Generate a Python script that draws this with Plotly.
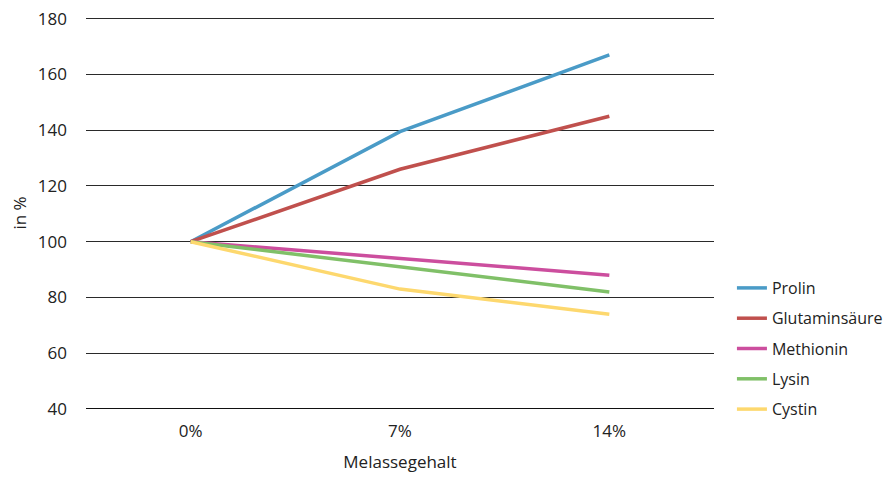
import plotly.graph_objects as go

categories = ["0%", "7%", "14%"]
series_names = ["Prolin", "Glutaminsäure", "Methionin", "Lysin", "Cystin"]
prolin = [100, 139.5, 167]
glutaminsaeure = [100, 126, 145]
methionin = [100, 94, 88]
lysin = [100, 91, 82]
cystin = [100, 83, 74]
y_ticks = [40, 60, 80, 100, 120, 140, 160, 180]

colors = ["#4A9BC7", "#C0504D", "#CC4E9E", "#80C068", "#FDD86E"]
values = [prolin, glutaminsaeure, methionin, lysin, cystin]

fig = go.Figure()
for name, vals, c in zip(series_names, values, colors):
    fig.add_trace(go.Scatter(x=categories, y=vals, mode="lines", name=name,
                             legendgroup=name,
                             line=dict(color=c, width=3.5)))

font_family = "Open Sans, sans-serif"
fig.update_layout(
    width=885, height=475,
    margin=dict(l=78, r=179, t=9, b=74),
    plot_bgcolor="white", paper_bgcolor="white",
    font=dict(family=font_family, size=17, color="#222"),
    showlegend=True,
    legend=dict(xref="container", yref="container", x=0.818, y=0.12,
                xanchor="left", yanchor="bottom",
                font=dict(size=16, color="#222"), tracegroupgap=6.5,
                itemwidth=30),
    xaxis=dict(type="category", range=[-0.5, 2.5], showgrid=False,
               showline=False, zeroline=False, ticks="", automargin=False,
               ticklabelstandoff=10,
               title=dict(text="Melassegehalt", font=dict(size=17), standoff=15)),
    yaxis=dict(range=[40, 180.6], tickvals=y_ticks, showgrid=True,
               gridcolor="#2a2a2a", gridwidth=1, zeroline=False, showline=False,
               ticks="", ticklabelstandoff=18, automargin=False,
               ticklabeloverflow="allow",
               title=dict(text="in %", font=dict(size=17), standoff=23)),
)
fig.add_shape(type="line", xref="paper", yref="y", x0=0, x1=1, y0=40, y1=40,
              line=dict(color="#111", width=2))

fig.write_html("out.html")
